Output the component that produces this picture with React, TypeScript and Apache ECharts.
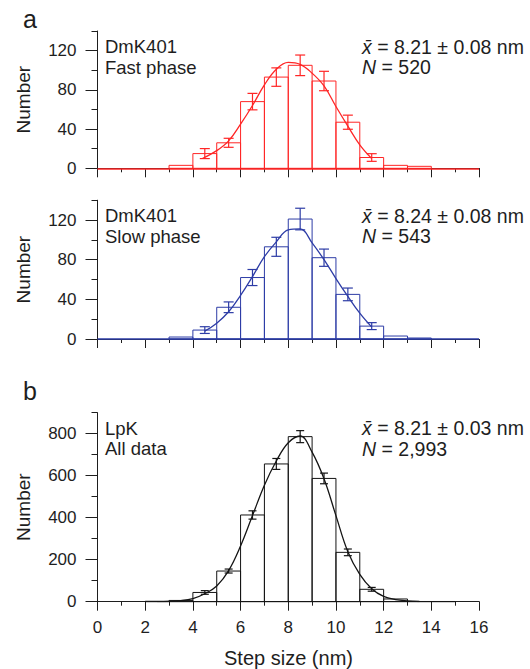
import React, { useEffect, useRef } from "react";
import * as echarts from "echarts";

// ---------- data ----------
const X_MIN = 0;
const X_MAX = 16;
const BIN_WIDTH = 1;

const FAST_BIN_STARTS = [3, 4, 5, 6, 7, 8, 9, 10, 11, 12, 13];
const FAST_COUNTS = [3, 15, 26, 68, 93, 105, 89, 47, 11, 3, 2];
const FAST_ERR_X = [4.5, 5.5, 6.5, 7.5, 8.5, 9.5, 10.5, 11.5];
const FAST_ERR_Y = [15, 26, 68, 93, 105, 89, 47, 11];
const FAST_ERR = [5.1, 4.6, 8.4, 9.4, 10.5, 9.9, 7.2, 3.9];
const FAST_FIT_X = [4.4, 5, 5.5, 6, 6.5, 7, 7.5, 8, 8.5, 9, 9.5, 10, 10.5, 11, 11.5];
const FAST_FIT_Y = [10, 18, 28, 45, 64, 85, 101, 108, 106, 97, 84, 63, 43, 24, 10];

const SLOW_BIN_STARTS = [3, 4, 5, 6, 7, 8, 9, 10, 11, 12, 13];
const SLOW_COUNTS = [2, 9, 32, 62, 93, 121, 82, 45, 13, 3, 1];
const SLOW_ERR_X = [4.5, 5.5, 6.5, 7.5, 8.5, 9.5, 10.5, 11.5];
const SLOW_ERR_Y = [9, 32, 62, 93, 121, 82, 45, 13];
const SLOW_ERR = [3.4, 5.4, 8.1, 9.6, 10.9, 8.7, 6.4, 3.5];
const SLOW_FIT_X = [4.5, 5, 5.5, 6, 6.5, 7, 7.5, 8, 8.5, 9, 9.5, 10, 10.5, 11, 11.5];
const SLOW_FIT_Y = [8, 16, 27.5, 44, 63, 83, 98, 110, 111, 97, 80, 61, 43, 26, 12];

const ALL_BIN_STARTS = [2, 3, 4, 5, 6, 7, 8, 9, 10, 11, 12, 13, 14];
const ALL_COUNTS = [2, 6, 44, 146, 413, 656, 786, 587, 235, 59, 13, 1, 1];
const ALL_ERR_X = [4.5, 5.5, 6.5, 7.5, 8.5, 9.5, 10.5, 11.5];
const ALL_ERR_Y = [44, 146, 413, 656, 786, 587, 235, 59];
const ALL_ERR = [8.7, 9.5, 19.8, 26, 28.6, 25.4, 15.9, 9];
const ALL_FIT_X = [2.5, 3, 3.5, 4, 4.5, 5, 5.5, 6, 6.5, 7, 7.5, 8, 8.5, 9, 9.5, 10, 10.5, 11, 11.5, 12, 12.5, 13, 13.5];
const ALL_FIT_Y = [0, 2, 5, 15, 38, 75, 148, 265, 410, 555, 670, 757, 789, 712, 585, 410, 238, 130, 62, 25, 10, 4, 1];

const Y_MAX_A = 140;
const Y_MAJOR_A = [0, 40, 80, 120];
const Y_MINOR_STEP_A = 20;
const Y_MAX_B = 900;
const Y_MAJOR_B = [0, 200, 400, 600, 800];
const Y_MINOR_STEP_B = 100;

const PANEL_LABELS = [
  ["DmK401", "Fast phase"],
  ["DmK401", "Slow phase"],
  ["LpK", "All data"],
];
const PANEL_STATS = [
  ["8.21 ± 0.08 nm", "520"],
  ["8.24 ± 0.08 nm", "543"],
  ["8.21 ± 0.03 nm", "2,993"],
];

const RED = "#ff2626";
const BLUE = "#2d3ca6";
const BLACK = "#141414";
const AXIS = "#1e1e1e";
const FONT = "Liberation Sans, Arial, sans-serif";

export default function App() {
  const ref = useRef<HTMLDivElement>(null);

  useEffect(() => {
    document.body.style.margin = "0";
    if (!ref.current) return;
    const chart = echarts.init(ref.current, null, { renderer: "svg" });

    const grids = [
      { left: 97.5, right: 51, top: 31, height: 137.3 },
      { left: 97.5, right: 51, top: 200.2, height: 138.8 },
      { left: 97.5, right: 51, top: 412.7, height: 189 },
    ];

    const xAxis: any[] = [];
    const yAxis: any[] = [];
    grids.forEach((g, i) => {
      const bottom = i === 2;
      xAxis.push({
        type: "value", gridIndex: i, position: "bottom", min: X_MIN, max: X_MAX, interval: 1,
        axisLine: { show: true, lineStyle: { color: AXIS, width: 1 } },
        axisTick: { show: true, length: 4, lineStyle: { color: AXIS, width: 1 } },
        axisLabel: { show: false }, splitLine: { show: false },
      });
      xAxis.push({
        type: "value", gridIndex: i, position: "bottom", min: X_MIN, max: X_MAX, interval: 2,
        axisLine: { show: false },
        axisTick: { show: true, length: 9, lineStyle: { color: AXIS, width: 1 } },
        axisLabel: { show: bottom, margin: 17, fontSize: 17, color: AXIS, fontFamily: FONT },
        splitLine: { show: false },
      });
      const max = bottom ? Y_MAX_B : Y_MAX_A;
      const major = bottom ? Y_MAJOR_B : Y_MAJOR_A;
      const step = bottom ? Y_MINOR_STEP_B : Y_MINOR_STEP_A;
      yAxis.push({
        type: "value", gridIndex: i, position: "left", min: 0, max,
        axisLine: { show: true, lineStyle: { color: AXIS, width: 1 } },
        axisTick: { show: true, length: 12, customValues: major, lineStyle: { color: AXIS, width: 1 } },
        axisLabel: { show: true, customValues: major, margin: 21, fontSize: 17, color: AXIS, fontFamily: FONT },
        splitLine: { show: false },
      });
      yAxis.push({
        type: "value", gridIndex: i, position: "left", min: 0, max, interval: step,
        axisLine: { show: false },
        axisTick: { show: true, length: 6, lineStyle: { color: AXIS, width: 1 } },
        axisLabel: { show: false }, splitLine: { show: false },
      });
    });

    const panels = [
      { starts: FAST_BIN_STARTS, counts: FAST_COUNTS, ex: FAST_ERR_X, ey: FAST_ERR_Y, e: FAST_ERR, fx: FAST_FIT_X, fy: FAST_FIT_Y, color: RED, base: true },
      { starts: SLOW_BIN_STARTS, counts: SLOW_COUNTS, ex: SLOW_ERR_X, ey: SLOW_ERR_Y, e: SLOW_ERR, fx: SLOW_FIT_X, fy: SLOW_FIT_Y, color: BLUE, base: true },
      { starts: ALL_BIN_STARTS, counts: ALL_COUNTS, ex: ALL_ERR_X, ey: ALL_ERR_Y, e: ALL_ERR, fx: ALL_FIT_X, fy: ALL_FIT_Y, color: BLACK, base: false },
    ];

    const series: any[] = [];
    panels.forEach((p, i) => {
      const color = p.color;
      series.push({
        type: "custom", xAxisIndex: 2 * i, yAxisIndex: 2 * i, silent: true,
        data: p.starts.map((s, k) => [s, p.counts[k]]),
        encode: { x: 0, y: 1 },
        renderItem: (params: any, api: any) => {
          const x0 = api.value(0);
          const y = api.value(1);
          const a = api.coord([x0, 0]);
          const b = api.coord([x0 + BIN_WIDTH, y]);
          return {
            type: "rect",
            shape: { x: a[0], y: b[1], width: b[0] - a[0], height: a[1] - b[1] },
            style: { fill: "none", stroke: color, lineWidth: 1 },
          };
        },
      });
      series.push({
        type: "custom", xAxisIndex: 2 * i, yAxisIndex: 2 * i, silent: true, z: 4,
        data: p.ex.map((x, k) => [x, p.ey[k], p.e[k]]),
        encode: { x: 0, y: 1 },
        renderItem: (params: any, api: any) => {
          const x = api.value(0);
          const y = api.value(1);
          const e = api.value(2);
          const lo = api.coord([x, y - e]);
          const hi = api.coord([x, y + e]);
          const cap = i === 2 ? 4 : 5;
          const st = { stroke: color, lineWidth: 1.2 };
          return {
            type: "group",
            children: [
              { type: "line", shape: { x1: lo[0], y1: lo[1], x2: hi[0], y2: hi[1] }, style: st },
              { type: "line", shape: { x1: lo[0] - cap, y1: lo[1], x2: lo[0] + cap, y2: lo[1] }, style: st },
              { type: "line", shape: { x1: hi[0] - cap, y1: hi[1], x2: hi[0] + cap, y2: hi[1] }, style: st },
            ],
          };
        },
      });
      const line: any = {
        type: "line", xAxisIndex: 2 * i, yAxisIndex: 2 * i, silent: true, z: 5,
        data: p.fx.map((x, k) => [x, p.fy[k]]),
        smooth: 0.4, showSymbol: false, symbol: "none",
        lineStyle: { color, width: 1.3 },
      };
      if (p.base) {
        line.markLine = {
          silent: true, symbol: ["none", "none"], label: { show: false },
          lineStyle: { type: "solid", color, width: 1.5 },
          data: [{ yAxis: 0 }],
        };
      }
      series.push(line);
    });

    const graphic: any[] = [];
    const txt = (x: number, y: number, text: string, size: number, extra: any = {}) => ({
      type: "text", x, y,
      style: { text, fontSize: size, fontFamily: FONT, fill: AXIS, textVerticalAlign: "middle", ...extra },
    });
    graphic.push(txt(30, 18.5, "a", 25, { textAlign: "center" }));
    graphic.push(txt(30, 391, "b", 25, { textAlign: "center" }));
    grids.forEach((g, i) => {
      const y1 = g.top + 15.5;
      const y2 = y1 + 20.5;
      graphic.push(txt(105, y1, PANEL_LABELS[i][0], 18.5));
      graphic.push(txt(105, y2, PANEL_LABELS[i][1], 18.5));
      graphic.push({
        type: "text", x: 362, y: y1,
        style: {
          text: "{i|x\u0304} = " + PANEL_STATS[i][0],
          rich: { i: { fontStyle: "italic", fontSize: 19.5, fontFamily: FONT, fill: AXIS } },
          fontSize: 19.5, fontFamily: FONT, fill: AXIS, textVerticalAlign: "middle",
        },
      });
      graphic.push({
        type: "text", x: 362, y: y2,
        style: {
          text: "{i|N} = " + PANEL_STATS[i][1],
          rich: { i: { fontStyle: "italic", fontSize: 19.5, fontFamily: FONT, fill: AXIS } },
          fontSize: 19.5, fontFamily: FONT, fill: AXIS, textVerticalAlign: "middle",
        },
      });
      graphic.push({
        type: "text", x: 23, y: g.top + g.height / 2, rotation: Math.PI / 2,
        style: { text: "Number", fontSize: 19, fontFamily: FONT, fill: AXIS, textAlign: "center", textVerticalAlign: "middle" },
      });
    });
    graphic.push(txt(288.5, 658, "Step size (nm)", 20, { textAlign: "center" }));

    chart.setOption({
      animation: false,
      backgroundColor: "#ffffff",
      grid: grids,
      xAxis,
      yAxis,
      series,
      graphic,
    });

    return () => chart.dispose();
  }, []);

  return <div ref={ref} style={{ width: 530, height: 669 }} />;
}
